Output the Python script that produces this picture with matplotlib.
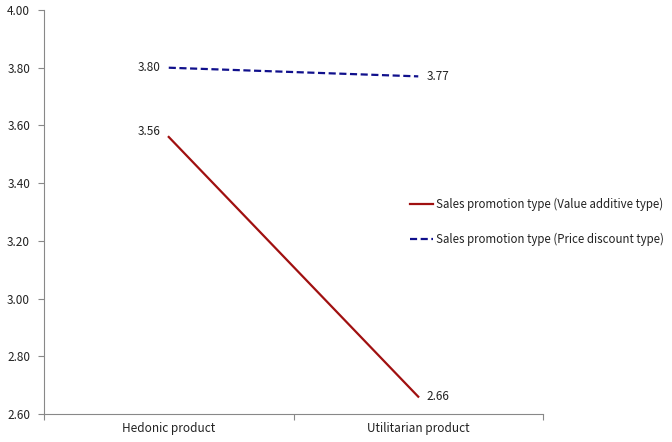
import matplotlib
matplotlib.use("Agg")
import matplotlib.pyplot as plt

plt.rcParams["font.family"] = ["Noto Sans CJK KR", "DejaVu Sans"]

categories = ["Hedonic product", "Utilitarian product"]
value_additive = [3.56, 2.66]
price_discount = [3.80, 3.77]
series_labels = ["Sales promotion type (Value additive type)",
                 "Sales promotion type (Price discount type)"]
y_ticks = [2.60, 2.80, 3.00, 3.20, 3.40, 3.60, 3.80, 4.00]

RED = "#a01010"
BLUE = "#10108c"
TXT = "#222222"

fig = plt.figure(figsize=(6.72, 4.42), dpi=100)
ax = fig.add_axes([44 / 672, 28 / 442, (543 - 44) / 672, (414 - 10) / 442])

xs = [0.5, 1.5]
l1, = ax.plot(xs, value_additive, color=RED, lw=1.6)
l2, = ax.plot(xs, price_discount, color=BLUE, lw=1.6, ls=(0, (3.2, 1.6)))

# value labels: left of the hedonic point, right of the utilitarian one
for x, v in zip(xs, value_additive):
    if x < 1:
        ax.annotate(f"{v:.2f}", (x, v), xytext=(-6, 4), textcoords="offset points",
                    ha="right", va="center", fontsize=8.5, color=TXT)
    else:
        ax.annotate(f"{v:.2f}", (x, v), xytext=(6, 0), textcoords="offset points",
                    ha="left", va="center", fontsize=8.5, color=TXT)
for x, v in zip(xs, price_discount):
    if x < 1:
        ax.annotate(f"{v:.2f}", (x, v), xytext=(-6, 0), textcoords="offset points",
                    ha="right", va="center", fontsize=8.5, color=TXT)
    else:
        ax.annotate(f"{v:.2f}", (x, v), xytext=(6, 0), textcoords="offset points",
                    ha="left", va="center", fontsize=8.5, color=TXT)

ax.set_xlim(0, 2)
ax.set_ylim(2.60, 4.00)
ax.set_yticks(y_ticks)
ax.set_yticklabels([f"{t:.2f}" for t in y_ticks], fontsize=8.5, color=TXT)
ax.set_xticks([0, 1, 2])
ax.set_xticklabels([])
ax.set_xticks(xs, minor=True)
ax.set_xticklabels(categories, minor=True, fontsize=8.5, color=TXT)
ax.tick_params(axis="x", which="minor", length=0, pad=6)
ax.tick_params(axis="x", which="major", length=4, color="#888888")
ax.tick_params(axis="y", length=4, color="#888888", pad=6)

for s in ["top", "right"]:
    ax.spines[s].set_visible(False)
for s in ["left", "bottom"]:
    ax.spines[s].set_color("#888888")
    ax.spines[s].set_linewidth(0.8)

fig.legend([l1, l2], series_labels, loc="center left",
           bbox_to_anchor=(400 / 672, 1 - 222 / 442), frameon=False,
           fontsize=8.3, handlelength=2.0, handletextpad=0.2,
           labelspacing=1.9, labelcolor=TXT)

fig.savefig("out.png", dpi=100)
